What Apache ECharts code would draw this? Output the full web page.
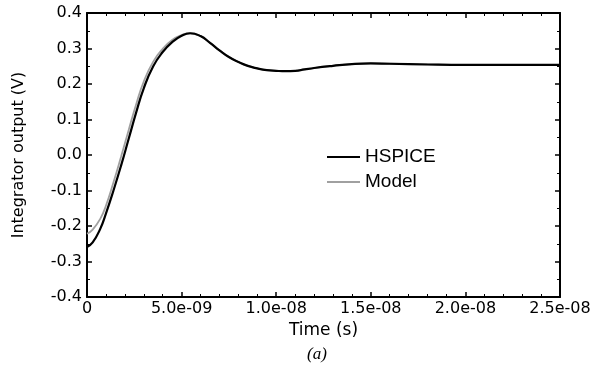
<!DOCTYPE html>
<html><head><meta charset="utf-8">
<script src="https://cdn.jsdelivr.net/npm/echarts@6/dist/echarts.min.js"></script>
<style>html,body{margin:0;padding:0;background:#fff}#c{width:595px;height:366px}</style>
</head><body><div id="c"></div>
<script>
// time in ns
const hspiceT = [0,0.3,0.7,1.0,1.4,1.8,2.2,2.6,3.0,3.5,4.0,4.5,5.0,5.45,6.0,6.5,7.0,7.5,8.0,8.5,9.0,9.5,10.0,10.5,11.0,11.5,12.0,13.0,14.0,15.0,16.0,18.0,20.0,22.5,25.0];
const hspiceV = [-0.259,-0.246,-0.208,-0.165,-0.1,-0.03,0.045,0.12,0.188,0.25,0.29,0.318,0.336,0.343,0.335,0.316,0.295,0.276,0.262,0.251,0.244,0.239,0.237,0.236,0.237,0.241,0.245,0.251,0.256,0.258,0.257,0.255,0.254,0.254,0.254];
const modelT = [0,0.3,0.7,1.0,1.4,1.8,2.2,2.6,3.0,3.5,4.0,4.5,5.0,5.45,6.0,6.5,7.0,7.5,8.0,8.5,9.0,9.5,10.0,10.5,11.0,11.5,12.0,13.0,14.0,15.0,16.0,18.0,20.0,22.5,25.0];
const modelV = [-0.222,-0.21,-0.18,-0.143,-0.077,-0.005,0.07,0.143,0.207,0.263,0.299,0.324,0.338,0.343,0.335,0.316,0.295,0.276,0.262,0.251,0.244,0.239,0.237,0.236,0.237,0.241,0.245,0.251,0.256,0.258,0.257,0.255,0.254,0.254,0.254];
const xTickLabels = ['0','5.0e-09','1.0e-08','1.5e-08','2.0e-08','2.5e-08'];

const F = '"DejaVu Sans", sans-serif';
const chart = echarts.init(document.getElementById('c'));
const axLine = {show:true, onZero:false, lineStyle:{color:'#000', width:2}};
const tick = {show:true, inside:true, length:5, lineStyle:{color:'#000', width:1.5}};
const minor = {show:true, splitNumber:5, length:3, lineStyle:{color:'#000', width:1}};
const minorY = {show:true, splitNumber:2, length:3, lineStyle:{color:'#000', width:1}};
chart.setOption({
  animation:false,
  backgroundColor:'#fff',
  grid:{left:87, right:35, top:13, bottom:69},
  xAxis:[{
    type:'value', min:0, max:25, interval:5, position:'bottom',
    axisLine:axLine, axisTick:tick, minorTick:minor, splitLine:{show:false},
    axisLabel:{color:'#000', fontFamily:F, fontSize:16, margin:4,
      formatter:v=>xTickLabels[Math.round(v/5)]},
    name:'Time (s)', nameLocation:'middle', nameGap:24,
    nameTextStyle:{color:'#000', fontFamily:F, fontSize:17}
  },{
    type:'value', min:0, max:25, interval:5, position:'top',
    axisLine:axLine, axisTick:tick, minorTick:minor, splitLine:{show:false},
    axisLabel:{show:false}
  }],
  yAxis:[{
    type:'value', min:-0.4, max:0.4, interval:0.1, position:'left',
    axisLine:axLine, axisTick:tick, minorTick:minorY, splitLine:{show:false},
    axisLabel:{color:'#000', fontFamily:F, fontSize:16, margin:5,
      formatter:v=>v.toFixed(1)},
    name:'Integrator output (V)', nameLocation:'middle', nameGap:60,
    nameTextStyle:{color:'#000', fontFamily:F, fontSize:16}
  },{
    type:'value', min:-0.4, max:0.4, interval:0.1, position:'right',
    axisLine:axLine, axisTick:tick, minorTick:minorY, splitLine:{show:false},
    axisLabel:{show:false}
  }],
  legend:{
    left:322, top:142, orient:'vertical', itemGap:5, itemWidth:33, itemHeight:20,
    icon:'path://M0,9H33V11H0Z',
    textStyle:{color:'#000', fontFamily:'"Liberation Sans", Arial, sans-serif', fontSize:19, lineHeight:20},
    data:['HSPICE','Model']
  },
  graphic:[{type:'text', left:307, top:346,
    style:{text:'(a)', font:'italic 17px "Liberation Serif", serif', fill:'#000'}}],
  series:[
    {name:'Model', type:'line', showSymbol:false, smooth:0.5, z:2,
      itemStyle:{color:'#a0a0a0'},
      lineStyle:{color:'#a0a0a0', width:1.8},
      data:modelT.map((t,i)=>[t, modelV[i]])},
    {name:'HSPICE', type:'line', showSymbol:false, smooth:0.5, z:3,
      itemStyle:{color:'#000'},
      lineStyle:{color:'#000', width:2.2},
      data:hspiceT.map((t,i)=>[t, hspiceV[i]])}
  ]
});
</script></body></html>
